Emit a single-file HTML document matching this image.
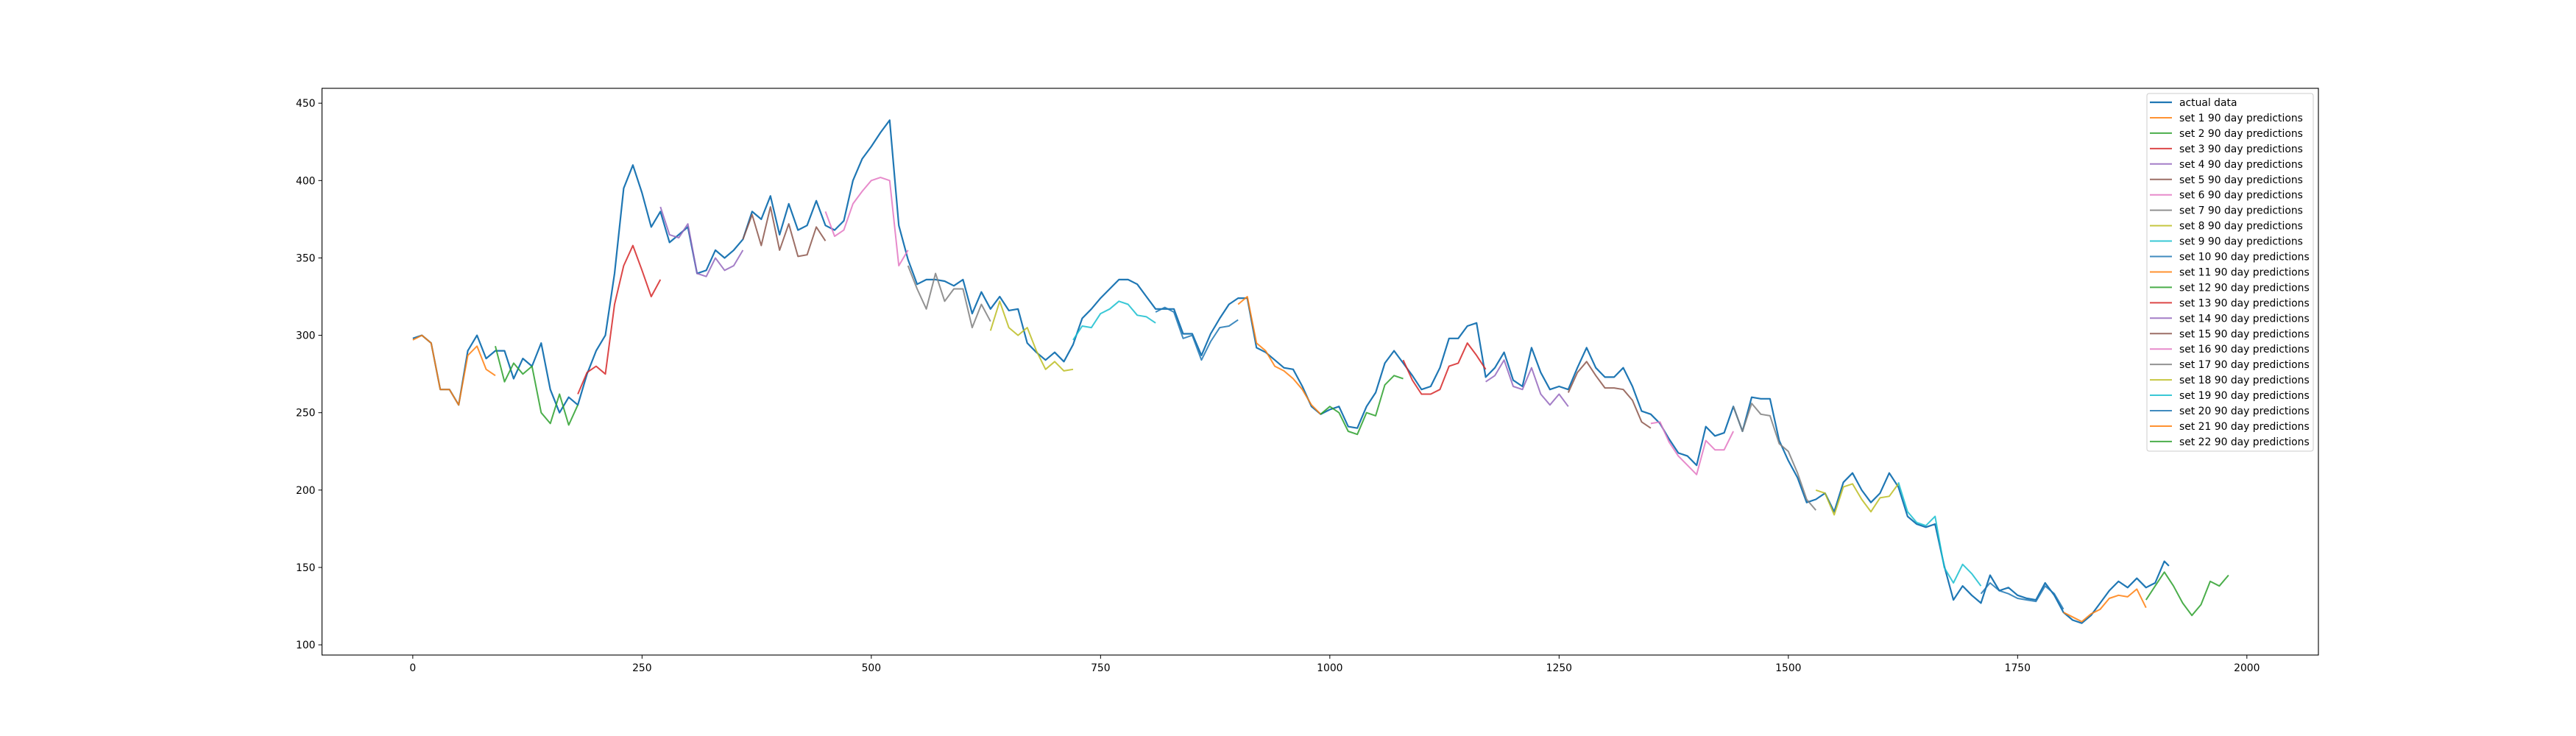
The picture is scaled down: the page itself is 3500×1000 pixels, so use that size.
<!DOCTYPE html>
<html><head><meta charset="utf-8"><style>
html,body{margin:0;padding:0;background:#fff;}
svg{display:block;font-family:"DejaVu Sans","Liberation Sans",sans-serif;}
</style></head>
<body>
<svg id="chart" width="3500" height="1000" viewBox="0 0 3500 1000">
<rect x="0" y="0" width="3500" height="1000" fill="#fff"/>
<g id="plot"></g>
<g id="axes"></g>
<g id="legend"></g>
</svg>
<script>
const actualDays = [];
const actualValues = [298,300,295,265,265,255,290,300,285,290,290,272,285,280,295,265,250,260,255,275,290,300,340,395,410,392,370,380,360,365,370,340,342,355,350,355,362,380,375,390,365,385,368,371,387,371,368,374,400,414,422,431,439,371,349,333,336,336,335,332,336,314,328,317,325,316,317,295,289,284,289,283,294,311,317,324,330,336,336,333,325,317,317,317,301,301,287,301,311,320,324,324,292,289,284,279,278,267,254,249,252,254,241,240,254,263,282,290,282,274,265,267,279,298,298,306,308,273,279,289,271,267,292,276,265,267,265,279,292,279,273,273,279,267,251,249,243,233,224,222,216,241,235,237,254,238,260,259,259,232,219,208,192,194,198,186,205,211,200,192,198,211,202,183,178,176,178,151,129,138,132,127,145,135,137,132,130,129,140,132,121,116,114,119,127,135,141,137,143,137,140,154,151];
for (let i = 0; i < actualValues.length; i++) actualDays.push(i === 192 ? 1915 : i * 10);

const predStarts = [0,90,180,270,360,450,540,630,720,810,900,990,1080,1170,1260,1350,1440,1530,1620,1710,1800,1890];
const pred1 = [297,300,295,265,265,255,287,293,278,274];
const pred2 = [293,270,282,275,280,250,243,262,242,255];
const pred3 = [262,276,280,275,320,345,358,342,325,336];
const pred4 = [383,365,363,372,340,338,350,342,345,355];
const pred5 = [362,378,358,383,355,372,351,352,370,361];
const pred6 = [380,364,368,385,393,400,402,400,345,355];
const pred7 = [345,330,317,340,322,330,330,305,320,309];
const pred8 = [303,322,305,300,305,290,278,283,277,278];
const pred9 = [297,306,305,314,317,322,320,313,312,308];
const pred10 = [315,318,315,298,300,284,296,305,306,310];
const pred11 = [320,325,295,290,280,277,272,265,255,249];
const pred12 = [249,254,250,238,236,250,248,268,274,272];
const pred13 = [284,271,262,262,265,280,282,295,287,278];
const pred14 = [270,274,284,267,265,279,262,255,262,254];
const pred15 = [263,276,283,274,266,266,265,258,244,240];
const pred16 = [243,244,231,222,216,210,232,226,226,238];
const pred17 = [254,238,256,249,248,230,225,211,194,187];
const pred18 = [200,198,184,202,204,194,186,195,196,204];
const pred19 = [205,186,179,177,183,150,140,152,146,138];
const pred20 = [133,140,135,133,130,129,128,138,133,123];
const pred21 = [121,118,115,120,123,130,132,131,136,124];
const pred22 = [129,138,147,138,127,119,126,141,138,145];
const predSets = [pred1,pred2,pred3,pred4,pred5,pred6,pred7,pred8,pred9,pred10,pred11,pred12,pred13,pred14,pred15,pred16,pred17,pred18,pred19,pred20,pred21,pred22];

const xTicks = [0,250,500,750,1000,1250,1500,1750,2000];
const yTicks = [100,150,200,250,300,350,400,450];
const legendLabels = ["actual data"];
for (let k = 1; k <= 22; k++) legendLabels.push("set " + k + " 90 day predictions");

const tab10 = ["#1f77b4","#ff7f0e","#2ca02c","#d62728","#9467bd","#8c564b","#e377c2","#7f7f7f","#bcbd22","#17becf"];
const L = 437.5, R = 3150, T = 120, B = 890;
const X0 = -99, X1 = 2078, Y0 = 93.4, Y1 = 459.6;
function sx(d){ return L + (d - X0) / (X1 - X0) * (R - L); }
function sy(v){ return B - (v - Y0) / (Y1 - Y0) * (B - T); }
const NS = "http://www.w3.org/2000/svg";
function mk(tag, parent){ const e = document.createElementNS(NS, tag); parent.appendChild(e); return e; }

const plot = document.getElementById('plot');
const axes = document.getElementById('axes');
const legend = document.getElementById('legend');

// actual data
let pts = actualDays.map((d,i)=> sx(d).toFixed(1)+","+sy(actualValues[i]).toFixed(1)).join(" ");
const act = mk('polyline', plot);
act.setAttribute('points', pts);
act.setAttribute('fill','none'); act.setAttribute('stroke', tab10[0]); act.setAttribute('stroke-width','2.2'); act.setAttribute('stroke-linejoin','round');



predSets.forEach((vals, k) => {
  const p = mk('polyline', plot);
  const s = predStarts[k];
  p.setAttribute('points', vals.map((v,i)=> sx(s + i*10).toFixed(1)+","+sy(v).toFixed(1)).join(" "));
  p.setAttribute('fill','none'); p.setAttribute('stroke', tab10[(k+1)%10]); p.setAttribute('stroke-width','2'); p.setAttribute('stroke-opacity','0.85'); p.setAttribute('stroke-linejoin','round');
  
  
});

// frame
const frame = mk('rect', axes);
frame.setAttribute('x', L); frame.setAttribute('y', T); frame.setAttribute('width', R-L); frame.setAttribute('height', B-T);
frame.setAttribute('fill','none'); frame.setAttribute('stroke','#000'); frame.setAttribute('stroke-width','1.1');



xTicks.forEach(t => {
  const x = sx(t);
  const tk = mk('line', axes);
  tk.setAttribute('x1', x); tk.setAttribute('x2', x); tk.setAttribute('y1', B); tk.setAttribute('y2', B+5);
  tk.setAttribute('stroke','#000'); tk.setAttribute('stroke-width','1');
  
  
  const lb = mk('text', axes);
  lb.setAttribute('x', x); lb.setAttribute('y', B+22); lb.setAttribute('text-anchor','middle'); lb.setAttribute('font-size','13.9'); lb.setAttribute('fill','#000');
  lb.textContent = t;
  
  
});
yTicks.forEach(t => {
  const y = sy(t);
  const tk = mk('line', axes);
  tk.setAttribute('x1', L-5); tk.setAttribute('x2', L); tk.setAttribute('y1', y); tk.setAttribute('y2', y);
  tk.setAttribute('stroke','#000'); tk.setAttribute('stroke-width','1');
  
  
  const lb = mk('text', axes);
  lb.setAttribute('x', L-9); lb.setAttribute('y', y+5); lb.setAttribute('text-anchor','end'); lb.setAttribute('font-size','13.9'); lb.setAttribute('fill','#000');
  lb.textContent = t;
  
  
});

// legend
const lbox = mk('rect', legend);
lbox.setAttribute('x', 2917); lbox.setAttribute('y', 127); lbox.setAttribute('width', 226); lbox.setAttribute('height', 486); lbox.setAttribute('rx', 3);
lbox.setAttribute('fill','#fff'); lbox.setAttribute('fill-opacity','0.8'); lbox.setAttribute('stroke','#ccc'); lbox.setAttribute('stroke-width','1');


legendLabels.forEach((txt, i) => {
  const y = 139 + i * 20.95;
  const ln = mk('line', legend);
  ln.setAttribute('x1', 2921); ln.setAttribute('x2', 2951); ln.setAttribute('y1', y); ln.setAttribute('y2', y);
  ln.setAttribute('stroke', tab10[i % 10]); ln.setAttribute('stroke-width', i === 0 ? '2.2' : '2'); ln.setAttribute('stroke-opacity', i === 0 ? '1' : '0.85');
  
  
  const tx = mk('text', legend);
  tx.setAttribute('x', 2961); tx.setAttribute('y', y+5); tx.setAttribute('font-size','13.9'); tx.setAttribute('fill','#000');
  tx.textContent = txt;
  
  
});
</script>
</body></html>
